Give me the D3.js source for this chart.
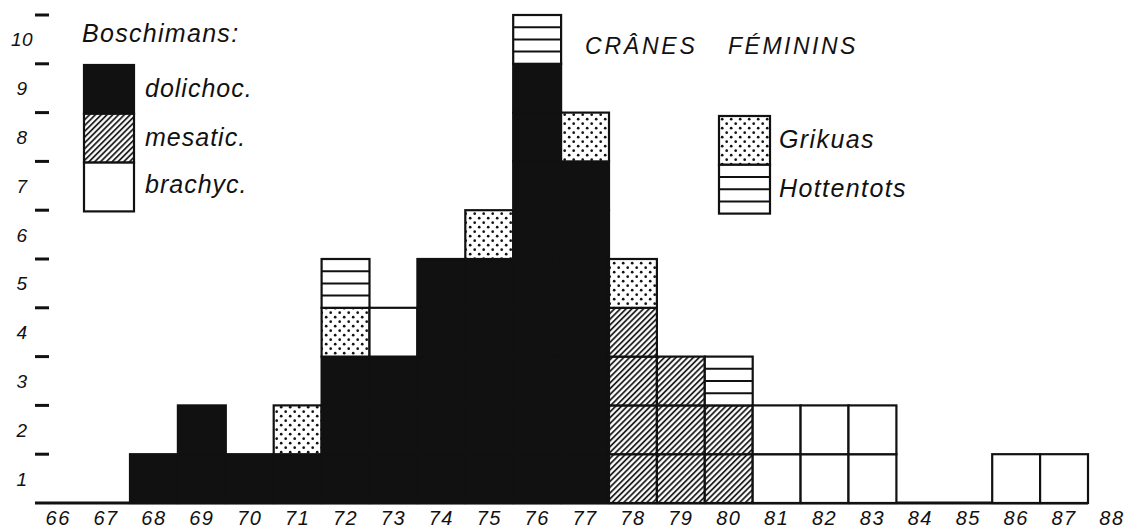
<!DOCTYPE html>
<html>
<head>
<meta charset="utf-8">
<script src="https://cdn.jsdelivr.net/npm/d3@7"></script>
<style>
  html, body { margin: 0; padding: 0; background: #fff; }
  svg { display: block; }
  text { font-family: "Liberation Sans", Arial, sans-serif; font-style: italic; fill: #111; }
</style>
</head>
<body>
<script>
// ---- data ----
const categories = [66,67,68,69,70,71,72,73,74,75,76,77,78,79,80,81,82,83,84,85,86,87,88];
const dolichoc   = [0,0,1,2,1,1,3,3,5,5,9,7,0,0,0,0,0,0,0,0,0,0,0];
const mesatic    = [0,0,0,0,0,0,0,0,0,0,0,0,4,3,2,0,0,0,0,0,0,0,0];
const brachyc    = [0,0,0,0,0,0,0,1,0,0,0,0,0,0,0,2,2,2,0,0,1,1,0];
const grikuas    = [0,0,0,0,0,1,1,0,0,1,0,1,1,0,0,0,0,0,0,0,0,0,0];
const hottentots = [0,0,0,0,0,0,1,0,0,0,1,0,0,0,1,0,0,0,0,0,0,0,0];
const yTicks     = [1,2,3,4,5,6,7,8,9,10];
const seriesNames = ["dolichoc.","mesatic.","brachyc.","Grikuas","Hottentots"];
const title = ["CRÂNES", "FÉMININS"];
const legendTitle = "Boschimans:";

const W = 1145, H = 529;
const svg = d3.select("body").append("svg").attr("width", W).attr("height", H);

const defs = svg.append("defs");
const dots = defs.append("pattern").attr("id","dots").attr("patternUnits","userSpaceOnUse")
  .attr("width",9).attr("height",9);
dots.append("rect").attr("width",9).attr("height",9).attr("fill","#fff");
dots.append("circle").attr("cx",2.2).attr("cy",2.2).attr("r",1.35).attr("fill","#111");
dots.append("circle").attr("cx",6.7).attr("cy",6.7).attr("r",1.35).attr("fill","#111");
const hatch = defs.append("pattern").attr("id","hatch").attr("patternUnits","userSpaceOnUse")
  .attr("width",4.1).attr("height",10).attr("patternTransform","rotate(45)");
hatch.append("rect").attr("width",4.1).attr("height",10).attr("fill","#fff");
hatch.append("line").attr("x1",1).attr("x2",1).attr("y1",0).attr("y2",10)
  .attr("stroke","#111").attr("stroke-width",1.7);

const x = d3.scaleBand().domain(categories).range([34.2, 1135.9]).padding(0);
const y = d3.scaleLinear().domain([0, 10]).range([503, 15]);
const unitH = y(0) - y(1);
const bw = x.bandwidth();

const fills = ["#111", "url(#hatch)", "#fff", "url(#dots)", "#fff"];
const series = [dolichoc, mesatic, brachyc, grikuas, hottentots];

// build cells
const cells = [];
categories.forEach((c, i) => {
  let base = 0;
  series.forEach((s, k) => {
    for (let j = 0; j < s[i]; j++) {
      cells.push({cat: c, k, lo: base + j});
    }
    base += s[i];
  });
});

function drawCell(g, cx, cy, w, h, k) {
  g.append("rect").attr("x", cx).attr("y", cy).attr("width", w).attr("height", h)
    .attr("fill", fills[k]).attr("stroke", "#111").attr("stroke-width", 2.2);
  if (k === 4) {
    for (let q = 1; q < 4; q++) {
      g.append("line").attr("x1", cx).attr("x2", cx + w)
        .attr("y1", cy + h * q / 4).attr("y2", cy + h * q / 4)
        .attr("stroke", "#111").attr("stroke-width", 2);
    }
  }
}

// baseline
svg.append("line").attr("x1", 35).attr("x2", x(87) + bw).attr("y1", y(0)).attr("y2", y(0))
  .attr("stroke", "#111").attr("stroke-width", 3);

const gBars = svg.append("g");
cells.forEach(d => {
  drawCell(gBars, x(d.cat), y(d.lo + 1), bw, unitH, d.k);
});

// y ticks (dashes) and labels
svg.append("g").selectAll("line").data(yTicks).join("line")
  .attr("x1", 35).attr("x2", 49).attr("y1", d => y(d)).attr("y2", d => y(d))
  .attr("stroke", "#111").attr("stroke-width", 3);
svg.append("g").selectAll("text").data(yTicks).join("text")
  .attr("x", 22).attr("y", d => y(d - 0.5) + 7).attr("text-anchor", "middle")
  .attr("font-size", 19).attr("letter-spacing", 0.5).text(d => d);

// x labels
svg.append("g").selectAll("text").data(categories).join("text")
  .attr("x", d => x(d) + bw / 2).attr("y", 525).attr("text-anchor", "middle")
  .attr("font-size", 20).attr("letter-spacing", 1.5).text(d => d);

// left legend
svg.append("text").attr("x", 82).attr("y", 42).attr("font-size", 25)
  .attr("letter-spacing", 1.3).text(legendTitle);
const gLeg = svg.append("g");
const legBaselines = [97, 146, 193];
[0,1,2].forEach((k, i) => {
  drawCell(gLeg, 84, 65 + i * unitH, 50, unitH, k);
  gLeg.append("text").attr("x", 145).attr("y", legBaselines[i]).attr("font-size", 25)
    .attr("letter-spacing", 1).text(seriesNames[k]);
});

// right legend
const rBaselines = [148, 197];
[3,4].forEach((k, i) => {
  drawCell(gLeg, 719, 116 + i * unitH, 51, unitH, k);
  gLeg.append("text").attr("x", 779).attr("y", rBaselines[i]).attr("font-size", 25)
    .attr("letter-spacing", 1.4).text(seriesNames[k]);
});

// title
svg.append("text").attr("x", 585).attr("y", 54).attr("font-size", 23)
  .attr("letter-spacing", 2.8).text(title[0]);
svg.append("text").attr("x", 728).attr("y", 54).attr("font-size", 23)
  .attr("letter-spacing", 2.5).text(title[1]);
</script>
</body>
</html>
